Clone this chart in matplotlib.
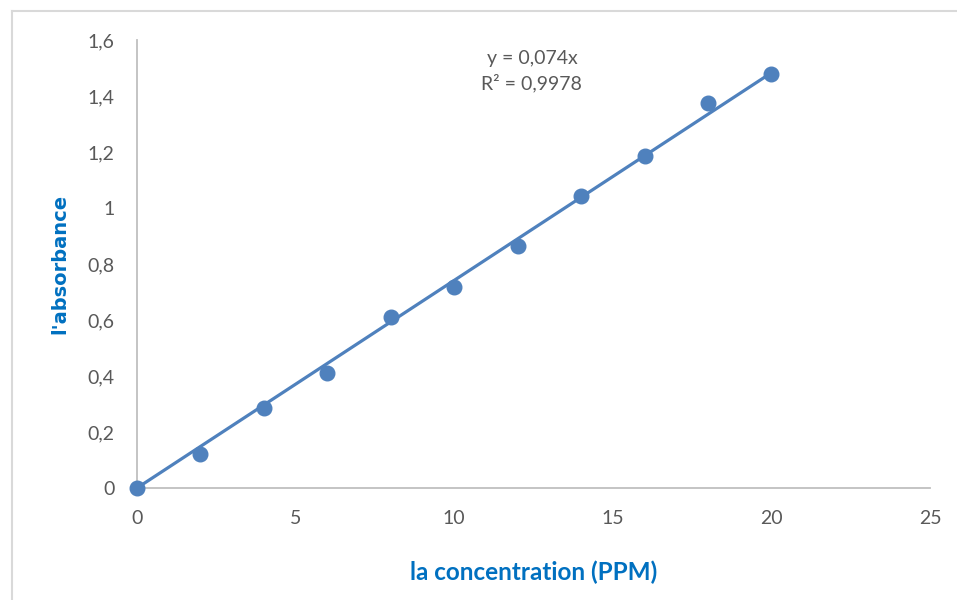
import matplotlib
matplotlib.use("Agg")
import matplotlib.pyplot as plt
import numpy as np
from matplotlib.lines import Line2D
from matplotlib.ticker import FuncFormatter, MultipleLocator

# data
concentration = [0, 2, 4, 6, 8, 10, 12, 14, 16, 18, 20]
absorbance = [0.0, 0.121, 0.286, 0.411, 0.611, 0.718, 0.864, 1.043, 1.186, 1.375, 1.479]
equation_text = "y = 0,074x\nR² = 0,9978"
x_title = "la concentration (PPM)"
y_title = "l'absorbance"

blue = "#4F81BD"
gray_text = "#595959"
title_blue = "#0070C0"

x = np.array(concentration)
y = np.array(absorbance)
# linear trendline forced through the origin (as in Excel)
slope = np.sum(x * y) / np.sum(x * x)

fig = plt.figure(figsize=(9.57, 6.0), dpi=100)
ax = fig.add_axes([137 / 957, 112 / 600, 793 / 957, 448 / 600])

ax.plot([0, x.max()], [0, slope * x.max()], color=blue, lw=2.3, zorder=2)
ax.plot(x, y, "o", color=blue, ms=10.5, zorder=3, clip_on=False)

ax.set_xlim(0, 25)
ax.set_ylim(0, 1.6)
ax.xaxis.set_major_locator(MultipleLocator(5))
ax.yaxis.set_major_locator(MultipleLocator(0.2))

def comma_fmt(v, pos):
    s = f"{v:.1f}".rstrip("0").rstrip(".")
    return s.replace(".", ",")

ax.xaxis.set_major_formatter(FuncFormatter(comma_fmt))
ax.yaxis.set_major_formatter(FuncFormatter(comma_fmt))

for side in ["top", "right"]:
    ax.spines[side].set_visible(False)
for side in ["left", "bottom"]:
    ax.spines[side].set_color("#bfbfbf")
    ax.spines[side].set_linewidth(1.3)

ax.tick_params(length=0, labelsize=14, labelcolor=gray_text, pad=16)
for lab in ax.get_xticklabels() + ax.get_yticklabels():
    lab.set_family("Lato")

ax.text(12.45, 1.489, equation_text, ha="center", va="center", multialignment="center",
        fontsize=14, color=gray_text, family="Lato", linespacing=1.4)

ax.set_xlabel(x_title, fontsize=17.5, fontweight="bold", color=title_blue, family="Lato")
ax.xaxis.set_label_coords(0.5, -0.1875)
ax.xaxis.label.set_va("center")
ax.set_ylabel(y_title, fontsize=14, fontweight="bold", color=title_blue, family="DejaVu Sans")
ax.yaxis.set_label_coords(-0.097, 0.5)
ax.yaxis.label.set_va("center")

# light chart-area border (left and top edges visible)
bx = 11.5 / 957
by = 1 - 10.5 / 600
fig.add_artist(Line2D([bx, bx], [0, by], transform=fig.transFigure, color="#d9d9d9", lw=1.5))
fig.add_artist(Line2D([bx, 1], [by, by], transform=fig.transFigure, color="#d9d9d9", lw=1.5))

fig.savefig("out.png", dpi=100)
